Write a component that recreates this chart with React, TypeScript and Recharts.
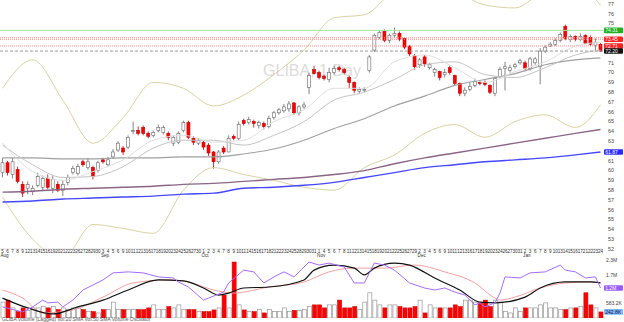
import React from 'react';
import { ComposedChart, Bar, Line, XAxis, YAxis, ReferenceLine } from 'recharts';

// daily candles, Aug 2019 - Jan 2020
const dayLabels = [
  5, 6, 7, 8, 9, 12, 13, 14, 15, 16, 19, 20, 21, 22, 23, 26, 27, 28, 29, 30,
  3, 4, 5, 6, 9, 10, 11, 12, 13, 16, 17, 18, 19, 20, 23, 24, 25, 26, 27, 30,
  1, 2, 3, 4, 7, 8, 9, 10, 11, 14, 15, 16, 17, 18, 21, 22, 23, 24, 25, 28, 29, 30, 31,
  1, 4, 5, 6, 7, 8, 11, 12, 13, 14, 15, 18, 19, 20, 21, 22, 25, 26, 27, 29,
  2, 3, 4, 5, 6, 9, 10, 11, 12, 13, 16, 17, 18, 19, 20, 23, 24, 26, 27, 30, 31,
  2, 3, 6, 7, 8, 9, 10, 13, 14, 15, 16, 17, 21, 22, 23, 24,
];
const monthStart = [0, 20, 40, 63, 83, 104];
const monthNames = ['Aug', 'Sep', 'Oct', 'Nov', 'Dec', 'Jan'];

const open = [
  59.8, 60.8, 59.6, 60.1, 58.6, 58.2, 57.9, 58.5, 58.3, 59.2, 58.2, 58.6, 58.0, 58.8, 59.8, 59.7, 60.9, 60.3, 60.3, 60.0,
  61.1, 60.6, 61.4, 62.1, 62.3, 62.4, 64.0, 64.1, 64.4, 63.8, 63.6, 64.1, 63.9, 63.8, 62.8, 62.9, 64.1, 64.9, 63.3, 62.8,
  62.9, 62.6, 61.9, 60.9, 62.3, 61.9, 63.5, 63.3, 65.1, 64.9, 65.0, 64.6, 64.8, 64.5, 65.4, 65.9, 66.1, 66.3, 66.9, 65.9,
  66.5, 68.5, 70.3, 70.0, 69.6, 69.3, 70.0, 70.5, 70.3, 69.5, 69.0, 68.1, 68.2, 70.2, 72.3, 73.6, 74.2, 73.3, 73.8, 74.0,
  73.5, 72.7, 71.7, 70.8, 71.6, 70.5, 70.0, 70.1, 69.8, 70.5, 69.7, 68.9, 67.9, 68.3, 68.7, 69.0, 69.0, 68.7, 67.9, 69.6,
  70.4, 70.2, 70.6, 71.0, 71.0, 70.4, 71.0, 70.6, 72.2, 72.7, 72.9, 73.3, 74.7, 73.4, 73.7, 73.4, 73.8, 73.6, 72.8, 72.9,
];
const close = [
  60.8, 59.8, 60.9, 58.9, 57.7, 58.6, 58.2, 59.4, 59.2, 58.3, 59.1, 58.0, 58.6, 59.3, 60.2, 60.4, 60.6, 60.9, 59.4, 60.8,
  60.9, 61.1, 61.9, 62.8, 61.9, 63.4, 64.1, 63.8, 63.8, 63.5, 63.9, 64.4, 64.4, 63.4, 63.4, 63.8, 64.9, 63.4, 62.9, 63.1,
  62.4, 61.8, 60.9, 61.9, 61.9, 63.3, 63.3, 64.7, 64.8, 65.2, 64.8, 64.9, 64.5, 65.3, 65.9, 66.2, 66.5, 66.8, 65.9, 66.5,
  66.7, 69.7, 69.9, 69.5, 69.4, 70.0, 70.4, 70.3, 70.0, 69.0, 68.2, 68.3, 68.3, 71.6, 73.8, 74.1, 73.3, 73.8, 74.0, 73.4,
  72.6, 71.9, 70.6, 71.3, 70.9, 70.8, 70.3, 69.5, 70.0, 70.0, 68.9, 67.9, 68.2, 68.6, 69.1, 68.9, 68.8, 68.0, 69.4, 70.3,
  70.6, 70.5, 70.8, 71.2, 70.4, 71.4, 71.4, 72.2, 72.6, 72.9, 73.3, 73.9, 73.5, 73.7, 73.4, 73.7, 73.0, 72.9, 73.1, 72.2,
];
const high = [
  61.3, 61.0, 61.3, 60.4, 58.9, 58.9, 58.5, 59.8, 59.5, 59.6, 59.5, 58.9, 59.0, 59.6, 60.5, 60.7, 61.1, 61.3, 60.5, 61.0,
  61.3, 61.4, 62.2, 63.0, 62.5, 63.6, 65.0, 64.5, 64.6, 64.0, 64.1, 64.7, 64.6, 64.0, 63.6, 64.0, 65.1, 65.1, 63.5, 63.3,
  63.1, 62.8, 62.0, 62.1, 62.5, 63.6, 63.7, 65.0, 65.3, 65.5, 65.2, 65.1, 65.0, 65.6, 66.1, 66.4, 66.8, 67.1, 67.0, 66.7,
  67.0, 70.0, 70.7, 70.2, 69.8, 70.5, 70.7, 70.7, 70.5, 69.7, 69.1, 68.5, 68.5, 71.8, 74.0, 74.3, 74.4, 74.0, 74.6, 74.2,
  73.6, 72.8, 71.9, 71.5, 71.8, 71.0, 70.5, 70.2, 70.4, 70.7, 69.8, 69.0, 68.5, 69.0, 69.4, 69.2, 69.2, 68.8, 69.6, 70.6,
  71.1, 70.8, 71.0, 71.4, 71.2, 71.6, 71.6, 72.5, 72.8, 73.1, 73.5, 74.1, 74.9, 73.9, 73.8, 74.0, 73.9, 73.8, 73.5, 73.0,
];
const low = [
  59.3, 59.5, 59.2, 58.7, 57.3, 57.6, 57.5, 58.3, 57.9, 58.1, 57.7, 57.8, 57.4, 58.5, 59.6, 59.5, 60.4, 60.1, 59.1, 59.8,
  60.7, 60.4, 61.2, 61.9, 61.6, 62.2, 63.7, 63.6, 63.6, 63.3, 63.4, 63.9, 63.7, 63.1, 62.5, 62.7, 63.9, 63.2, 62.6, 62.6,
  62.1, 61.5, 60.2, 60.7, 61.7, 61.9, 63.1, 63.1, 64.6, 64.7, 64.4, 64.3, 64.2, 64.3, 65.2, 65.7, 65.9, 66.0, 65.7, 65.6,
  66.3, 67.8, 69.8, 69.3, 69.2, 69.0, 69.8, 70.1, 69.8, 68.4, 67.9, 67.9, 68.0, 70.0, 72.1, 73.4, 73.1, 73.0, 73.6, 73.2,
  72.4, 71.7, 70.3, 70.5, 70.6, 70.3, 69.6, 69.2, 69.5, 69.8, 68.7, 67.6, 67.6, 68.1, 68.5, 68.7, 68.6, 67.8, 67.6, 69.4,
  68.2, 70.0, 70.4, 70.8, 70.2, 70.2, 70.8, 68.8, 72.0, 72.6, 72.7, 73.1, 73.3, 73.1, 73.2, 73.2, 72.9, 72.7, 72.3, 72.1,
];
// volume in millions
const volume = [
  0.63, 0.71, 0.40, 0.25, 0.40, 0.29, 0.40, 0.40, 0.45, 0.40, 0.45, 0.33, 0.40, 0.33, 0.40, 0.40, 0.33, 0.25, 0.25, 0.20,
  0.33, 0.33, 0.63, 0.33, 0.33, 0.33, 0.33, 0.33, 0.33, 0.40, 0.52, 0.33, 0.33, 0.45, 0.40, 0.52, 0.33, 0.33, 0.33, 0.25,
  0.25, 0.25, 0.32, 0.40, 0.91, 0.40, 2.22, 0.52, 0.32, 0.25, 0.25, 0.33, 0.20, 0.33, 0.25, 0.25, 0.40, 0.25, 0.30, 0.30,
  0.33, 0.45, 0.52, 0.52, 0.40, 0.52, 0.52, 0.71, 0.40, 0.40, 0.45, 0.33, 0.63, 1.00, 0.71, 0.52, 0.40, 0.52, 0.52, 0.45,
  0.40, 0.40, 0.45, 0.71, 0.20, 0.52, 0.40, 0.40, 0.40, 0.40, 0.52, 0.45, 0.71, 0.71, 0.63, 0.60, 0.71, 0.45, 0.71, 0.63,
  0.25, 0.20, 0.40, 0.25, 0.40, 0.40, 0.40, 0.52, 0.60, 0.40, 0.40, 0.33, 0.33, 0.40, 0.40, 0.45, 1.00, 0.52, 0.40, 0.24,
];

// overlay lines, sampled every 6 candles
const maIdx = [0, 6, 12, 18, 24, 30, 36, 42, 48, 54, 60, 66, 72, 78, 84, 90, 96, 102, 108, 114, 119];
const ma10 = [62.8, 59.9, 59.0, 59.9, 61.1, 63.1, 63.6, 62.9, 63.1, 65.0, 66.2, 68.4, 68.4, 71.1, 71.8, 70.5, 69.0, 70.1, 71.1, 72.7, 73.1];
const ma20 = [62.6, 60.6, 59.3, 59.4, 60.4, 62.3, 63.1, 63.1, 62.6, 63.6, 65.0, 67.2, 68.0, 69.3, 70.8, 71.1, 69.8, 69.5, 70.5, 71.8, 72.3];
const ma50 = [61.3, 61.3, 61.2, 61.2, 61.3, 61.3, 61.4, 61.4, 61.7, 62.2, 63.1, 64.3, 65.3, 66.6, 67.6, 68.7, 69.3, 69.9, 70.8, 71.3, 71.5];
const ma100 = [57.8, 57.9, 58.1, 58.2, 58.3, 58.4, 58.6, 58.7, 58.9, 59.1, 59.3, 59.6, 60.0, 60.7, 61.3, 61.8, 62.3, 62.8, 63.3, 63.8, 64.2];
const ma200 = [56.8, 56.9, 57.1, 57.2, 57.3, 57.4, 57.6, 57.7, 58.2, 58.3, 58.5, 58.8, 59.3, 59.8, 60.3, 60.6, 60.9, 61.1, 61.3, 61.6, 61.9];
const bbUpper = [68.4, 71.3, 67.2, 62.8, 65.4, 69.0, 68.4, 66.6, 67.7, 69.8, 72.3, 75.6, 75.9, 78.4, 79.5, 78.4, 76.9, 76.6, 78.4, 78.9, 76.9];
const bbLower = [57.3, 53.0, 51.1, 54.5, 54.1, 53.6, 58.0, 60.3, 59.6, 59.0, 58.3, 58.0, 60.3, 61.6, 63.8, 64.7, 63.4, 65.0, 65.7, 64.4, 66.7];

// lower pane lines (millions)
const oscIdx = [0, 4, 6, 8, 9, 11, 12, 14, 16, 20, 22, 25, 28, 31, 34, 35, 37, 40, 41, 44, 45, 48, 50, 52, 54, 56, 58, 61, 63, 65, 68, 70, 72, 74, 76, 78, 81, 84, 86, 88, 90, 92, 94, 95, 96, 98, 99, 100, 103, 105, 108, 111, 112, 114, 116, 118, 119];
const osc = [0.44, 0.24, 0.44, 0.71, 0.60, 0.63, 0.44, 0.71, 1.11, 1.51, 1.79, 1.83, 1.79, 1.63, 1.59, 1.43, 1.23, 0.71, 0.79, 1.03, 1.39, 1.90, 1.83, 1.39, 1.63, 1.83, 1.63, 2.22, 2.10, 2.18, 2.02, 1.39, 1.39, 2.18, 2.10, 1.90, 1.39, 1.19, 1.11, 1.19, 1.03, 0.91, 0.52, 0.60, 0.44, 0.60, 0.99, 1.63, 1.59, 1.79, 1.83, 2.10, 1.90, 1.83, 1.59, 1.63, 1.19];
const fastIdx = [0, 5, 10, 15, 20, 25, 31, 36, 40, 43, 45, 48, 53, 60, 62, 66, 70, 72, 74, 78, 81, 82, 86, 91, 95, 98, 104, 107, 112, 117, 119];
const fastAvg = [0.79, 0.40, 0.16, 0.44, 0.71, 1.11, 1.51, 1.47, 1.19, 0.91, 0.99, 1.19, 1.23, 1.51, 1.90, 2.10, 1.98, 1.71, 1.98, 2.18, 2.10, 2.02, 1.59, 1.11, 0.63, 0.60, 0.83, 1.19, 1.43, 1.43, 1.39];
const slowIdx = [0, 4, 8, 14, 20, 26, 33, 37, 42, 46, 53, 60, 65, 70, 76, 82, 88, 94, 98, 99, 102, 107, 112, 117, 119];
const slowAvg = [1.11, 0.79, 0.20, 0.32, 0.83, 1.39, 1.51, 1.43, 1.11, 0.99, 1.23, 1.43, 1.83, 1.98, 1.98, 2.10, 1.83, 1.39, 0.79, 0.71, 0.83, 1.19, 1.39, 1.43, 1.39];

// 62, 72, 73 and 74 sit under the price tags
const priceTicks = [52, 53, 54, 55, 56, 57, 58, 59, 60, 61, 63, 64, 65, 66, 67, 68, 69, 70, 71, 75, 76, 77];
const volTicks = [0.5832, 1.7, 2.3];
const volTickText = ['583.2K', '1.7M', '2.3M'];

const FONT = '"Liberation Sans", Arial, sans-serif';
const N = open.length;
const allIdx = open.map((_, i) => i);
const xDomain = [-0.5, N - 0.5];

const priceRows = open.map((o, i) => ({ i, o, c: close[i], h: high[i], l: low[i], range: [low[i], high[i]] }));
const maRows = maIdx.map((k, j) => ({
  i: k, ma10: ma10[j], ma20: ma20[j], ma50: ma50[j], ma100: ma100[j], ma200: ma200[j], bbU: bbUpper[j], bbL: bbLower[j],
}));
const volRows = volume.map((v, i) => ({ i, v, up: close[i] >= open[i] }));
const oscRows = oscIdx.map((k, j) => ({ i: k, osc: osc[j] }));
const fastRows = fastIdx.map((k, j) => ({ i: k, fast: fastAvg[j] }));
const slowRows = slowIdx.map((k, j) => ({ i: k, slow: slowAvg[j] }));

const Candle = (props: any) => {
  const { x, y, width, height, payload } = props;
  const { o, c, h, l } = payload;
  const hh = Math.abs(height);
  const ppu = hh / (h - l || 1);
  const top = y + (h - Math.max(o, c)) * ppu;
  const bot = y + (h - Math.min(o, c)) * ppu;
  const cx = x + width / 2;
  const up = c >= o;
  const edge = up ? '#666' : '#b00';
  return (
    <g>
      <line x1={cx} x2={cx} y1={y} y2={y + hh} stroke={edge} strokeWidth={0.8} />
      <rect x={x} y={top} width={width} height={Math.max(1, bot - top)} fill={up ? '#fff' : '#f00'} stroke={edge} strokeWidth={0.6} />
    </g>
  );
};

const VolBar = (props: any) => {
  const { x, y, width, height, payload } = props;
  return (
    <rect x={x} y={y} width={width} height={Math.max(0, height)}
      fill={payload.up ? '#fff' : '#f00'} stroke={payload.up ? '#888' : '#c00'} strokeWidth={0.6} />
  );
};

const DayTick = (props: any) => {
  const { x, y, payload } = props;
  const i = payload.value;
  const m = monthStart.indexOf(i);
  return (
    <g fontFamily={FONT}>
      <text x={x} y={y + 3.5} fontSize={4.6} textAnchor="middle" fill="#333">{dayLabels[i]}</text>
      {m >= 0 && <text x={x - 2} y={y + 8} fontSize={4.6} fill="#333">{monthNames[m]}</text>}
    </g>
  );
};

const Tag = (props: any) => {
  const { viewBox, text, bg, fg } = props;
  if (!viewBox) return null;
  const xx = viewBox.x + viewBox.width + 1;
  return (
    <g>
      <rect x={xx} y={viewBox.y - 2.8} width={19} height={5.6} fill={bg} rx={1} />
      <text x={xx + 1.2} y={viewBox.y + 1.8} fontSize={5} fill={fg} fontFamily={FONT}>{text}</text>
    </g>
  );
};

const lineProps = { dot: false, activeDot: false, isAnimationActive: false, type: 'monotone' as const };
const axisTick = { fontSize: 5.3, fill: '#444', fontFamily: FONT };

export default function App() {
  return (
    <div style={{ position: 'fixed', left: 0, top: 0, width: 624, height: 322, background: '#fff', overflow: 'hidden' }}>
      <div style={{ position: 'absolute', left: 0, top: 62, width: 624, textAlign: 'center', fontFamily: FONT, fontSize: 16, color: '#dcdcdc' }}>
        GLIBA, 1 Day
      </div>
      <div style={{ position: 'absolute', left: 0, top: 0 }}>
        <ComposedChart width={624} height={264} data={priceRows} margin={{ top: 0, right: 0, bottom: 0, left: 0 }}>
          <XAxis dataKey="i" type="number" domain={xDomain} ticks={allIdx} interval={0} height={15}
            tickSize={0} tickMargin={0} tick={<DayTick />} tickLine={false} axisLine={{ stroke: '#ddd' }} />
          <YAxis orientation="right" width={21} domain={[52, 77.41]} allowDataOverflow ticks={priceTicks} interval={0}
            tickSize={3} tickMargin={2} tick={axisTick} tickLine={false} axisLine={false} />
          <Line data={maRows} dataKey="bbU" stroke="#d8d3a3" strokeWidth={1} {...lineProps} />
          <Line data={maRows} dataKey="bbL" stroke="#d8d3a3" strokeWidth={1} {...lineProps} />
          <Line data={maRows} dataKey="ma200" stroke="#4646ff" strokeWidth={1.4} {...lineProps} />
          <Line data={maRows} dataKey="ma100" stroke="#8a6585" strokeWidth={1.4} {...lineProps} />
          <Line data={maRows} dataKey="ma50" stroke="#a0a0a0" strokeWidth={1.1} {...lineProps} />
          <Line data={maRows} dataKey="ma20" stroke="#c4c4c4" strokeWidth={1} {...lineProps} />
          <Line data={maRows} dataKey="ma10" stroke="#dedede" strokeWidth={1} {...lineProps} />
          <ReferenceLine y={74.31} stroke="#9be89b" strokeWidth={1} label={<Tag text="74.31" bg="#22b022" fg="#fff" />} />
          <ReferenceLine y={73.56} stroke="#ff9090" strokeDasharray="1 1" />
          <ReferenceLine y={73.4} stroke="#ff9090" strokeDasharray="1 1" label={<Tag text="73.45" bg="#f22" fg="#fff" />} />
          <ReferenceLine y={72.72} stroke="#ff9090" strokeDasharray="1 1" label={<Tag text="72.71" bg="#f22" fg="#fff" />} />
          <ReferenceLine y={72.2} stroke="#999" strokeDasharray="3 2" label={<Tag text="72.20" bg="#111" fg="#fff" />} />
          <ReferenceLine y={61.9} stroke="none" label={<Tag text="61.87" bg="#2a2aff" fg="#fff" />} />
          <Bar dataKey="range" barSize={3} shape={<Candle />} isAnimationActive={false} />
        </ComposedChart>
      </div>
      <div style={{ position: 'absolute', left: 0, top: 256 }}>
        <ComposedChart width={624} height={62} data={volRows} margin={{ top: 0, right: 0, bottom: 0, left: 0 }}>
          <XAxis dataKey="i" type="number" domain={xDomain} hide />
          <YAxis orientation="right" width={21} domain={[0, 2.46]} allowDataOverflow ticks={volTicks} interval={0}
            tickFormatter={(v: number) => volTickText[volTicks.indexOf(v)]}
            tickSize={2} tickMargin={1} tick={{ ...axisTick, fontSize: 5 }} tickLine={false} axisLine={false} />
          <Bar dataKey="v" barSize={4} shape={<VolBar />} isAnimationActive={false} />
          <Line data={slowRows} dataKey="slow" stroke="#f4a0a0" strokeWidth={1} {...lineProps} />
          <Line data={fastRows} dataKey="fast" stroke="#111" strokeWidth={1.2} {...lineProps} />
          <Line data={oscRows} dataKey="osc" stroke="#a56cff" strokeWidth={1} {...lineProps} type="linear" />
          <ReferenceLine y={1.19} stroke="none" label={<Tag text="1.2M" bg="#9b5cff" fg="#fff" />} />
          <ReferenceLine y={0.2428} stroke="none" label={<Tag text="242.8K" bg="#7fb8ff" fg="#113" />} />
        </ComposedChart>
      </div>
      <div style={{ position: 'absolute', left: 2, top: 316, fontFamily: FONT, fontSize: 5, color: '#555', whiteSpace: 'nowrap' }}>
        GLIBA Volume (Lagged) Vol:20 SMA Vol:50 SMA Volume Oscillator
      </div>
    </div>
  );
}
